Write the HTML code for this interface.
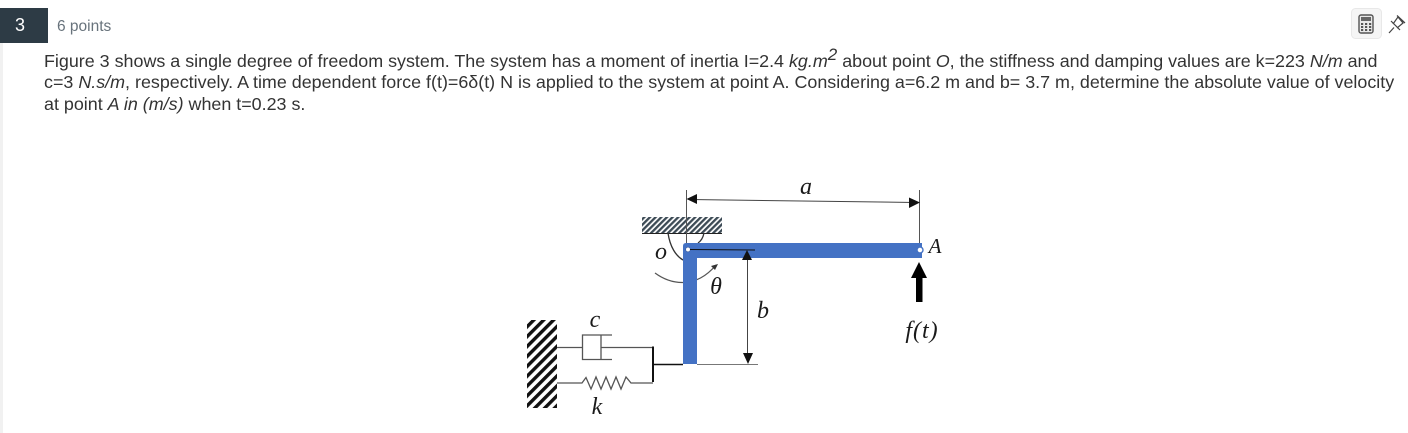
<!DOCTYPE html>
<html><head><meta charset="utf-8"><style>
html,body{margin:0;padding:0;background:#fff}
body{width:1408px;height:433px;position:relative;overflow:hidden;font-family:"Liberation Sans",Arial,sans-serif}
.l{position:absolute;left:44px;white-space:nowrap;font-size:17.9px;line-height:21px;color:#333}
sup{font-size:17px;line-height:0;vertical-align:7px}
</style></head><body>
<div style="position:absolute;left:0;top:43px;width:3px;height:390px;background:#f1f1f1"></div>
<div style="position:absolute;left:0;top:8px;width:40px;height:35px;padding-right:8px;background:#2d3b45;color:#fff;font-size:18px;line-height:35px;text-align:center">3</div>
<div style="position:absolute;left:57px;top:17px;font-size:15.500px;line-height:20px;color:#68737c;white-space:nowrap">6 points</div>
<div class="l" style="top:51px">Figure 3 shows a single degree of freedom system. The system has a moment of inertia I=2.4 <i>kg.m<sup>2</sup></i> about point <i>O</i>, the stiffness and damping values are k=223 <i>N/m</i> and</div>
<div class="l" style="top:72px">c=3 <i>N.s/m</i>, respectively. A time dependent force f(t)=6δ(t) N is applied to the system at point A. Considering a=6.2 m and b= 3.7 m, determine the absolute value of velocity</div>
<div class="l" style="top:94px">at point <i>A in (m/s)</i> when t=0.23 s.</div>
<svg width="1408" height="433" style="position:absolute;left:0;top:0" font-family="Liberation Serif,serif" font-style="italic">
<defs>
<clipPath id="h1"><rect x="642" y="217" width="80" height="16"/></clipPath>
<clipPath id="h2"><rect x="527" y="320" width="30" height="88"/></clipPath>
<pattern id="p1" width="4" height="4" patternUnits="userSpaceOnUse" patternTransform="rotate(45 0 0)"><rect width="4" height="4" fill="#fff"/><rect width="2.300" height="4" fill="#3c4a55"/></pattern>
<pattern id="p2" width="7" height="7" patternUnits="userSpaceOnUse" patternTransform="rotate(45 0 0)"><rect width="7" height="7" fill="#fff"/><rect width="3.400" height="7" fill="#111"/></pattern>
</defs>
<!-- header buttons -->
<rect x="1351.500" y="8.500" width="30" height="30" rx="4" fill="#f5f5f5" stroke="#e8e8e8"/>
<rect x="1359" y="15" width="14" height="18" rx="2" fill="#e8e8e8" stroke="#555" stroke-width="1.400"/>
<rect x="1361" y="17" width="10" height="4" fill="#666"/>
<g fill="#555"><rect x="1361" y="23" width="2.200" height="2"/><rect x="1365" y="23" width="2.200" height="2"/><rect x="1369" y="23" width="2.200" height="2"/><rect x="1361" y="26" width="2.200" height="2"/><rect x="1365" y="26" width="2.200" height="2"/><rect x="1369" y="26" width="2.200" height="2"/><rect x="1361" y="29" width="2.200" height="2"/><rect x="1365" y="29" width="2.200" height="2"/><rect x="1369" y="29" width="2.200" height="2"/></g>
<g fill="none" stroke="#444" stroke-width="1.200"><path d="M1389 33L1394 27.500M1391 21L1400 30M1393 24L1398 17L1403 23L1397 28M1397 15.500L1405 23"/></g>
<!-- ceiling -->
<rect x="642" y="217" width="80" height="16" fill="url(#p1)" clip-path="url(#h1)"/>
<line x1="642" y1="233.500" x2="722" y2="233.500" stroke="#222" stroke-width="1"/>
<g fill="none" stroke="#333" stroke-width="1.300">
<path d="M668 233C670 247 676 256 683 260"/>
<path d="M704 233C703 238 701 241 698 243"/>
</g>
<path d="M655 273C670 284 695 290 716 265" fill="none" stroke="#555" stroke-width="1.200"/>
<path d="M718 264L711 266L715 270Z" fill="#333"/>
<!-- dimension a -->
<g stroke="#555" stroke-width="1"><line x1="686.500" y1="190" x2="686.500" y2="245"/><line x1="919.500" y1="190" x2="919.500" y2="245"/></g>
<line x1="690" y1="199.500" x2="915" y2="202.500" stroke="#444" stroke-width="1"/>
<path d="M686.500 199L697 194V204Z" fill="#111"/><path d="M920 202.500L909 197.500V208Z" fill="#111"/>
<!-- beam -->
<path d="M686 243H922V258H697V364H683V246Q683 243 686 243Z" fill="#4472c4"/>
<circle cx="688" cy="249.500" r="2.300" fill="#fff" stroke="#3a5a9a" stroke-width=".6"/>
<circle cx="920" cy="250" r="3" fill="#fff" stroke="#4472c4" stroke-width="1.400"/>
<line x1="690" y1="249.500" x2="755" y2="250" stroke="#111" stroke-width="1"/>
<!-- dimension b -->
<line x1="747.500" y1="258" x2="747.500" y2="355" stroke="#444" stroke-width="1"/>
<path d="M747 250L752 260H742Z" fill="#111"/><path d="M748 364L743 353H753Z" fill="#111"/>
<line x1="697" y1="364.500" x2="758" y2="364.500" stroke="#777" stroke-width="1"/>
<!-- f(t) arrow -->
<path d="M919 262L927 278H922.500V302H916V278H911Z" fill="#000"/>
<!-- wall -->
<rect x="527" y="320" width="30" height="88" fill="url(#p2)" clip-path="url(#h2)"/>
<!-- damper, spring -->
<g fill="none" stroke="#555" stroke-width="1.300">
<path d="M557 347.500H582.500"/>
<path d="M612 335H582.500V359.500H612"/>
<path d="M601 335V359.500"/>
<path d="M601 347.500H653"/>
<path d="M557 383H582L586 377.500L591 389L596 377L601 389L606 377L611 389L616 377L621 389L626 377L631 383H653"/>
</g>
<path d="M653 346.500V382" stroke="#111" stroke-width="2" fill="none"/>
<line x1="653" y1="364.500" x2="683" y2="364.500" stroke="#111" stroke-width="1.500"/>
<!-- labels -->
<g fill="#1a1a1a" font-size="24" text-anchor="middle">
<text x="806" y="194">a</text>
<text x="661" y="259">o</text>
<text x="716" y="294">θ</text>
<text x="935" y="253" font-size="21">A</text>
<text x="763" y="318">b</text>
<text x="595" y="327">c</text>
<text x="597" y="414">k</text>
<text x="922" y="338" letter-spacing="1">f(t)</text>
</g>
</svg>
</body></html>
